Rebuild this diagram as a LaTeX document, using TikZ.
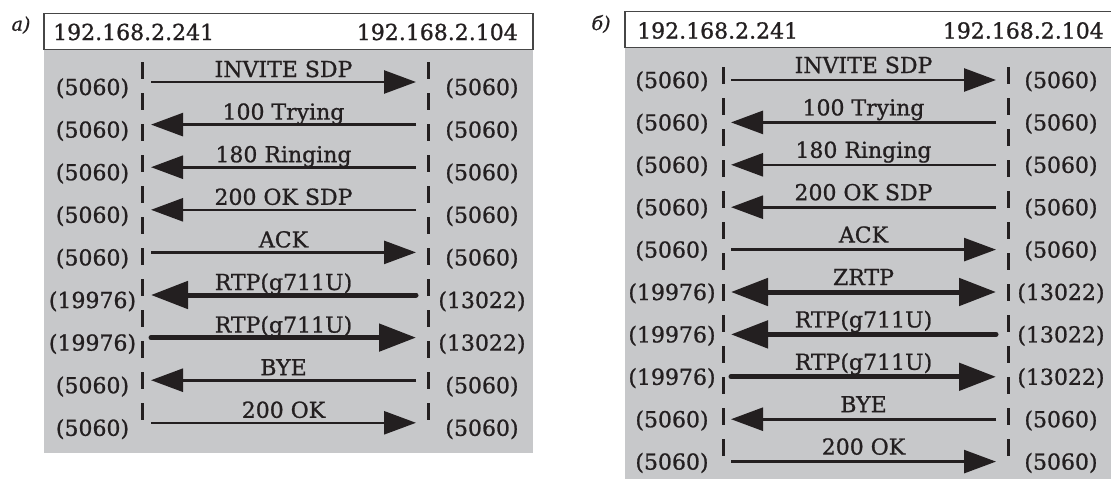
\documentclass[tikz,border=0pt]{standalone}
\usepackage{fontspec}
\setmainfont{DejaVu Serif}[FakeBold=0.9]
\usetikzlibrary{arrows.meta}
\definecolor{panelgray}{RGB}{199,200,202}
\definecolor{ink}{RGB}{35,31,32}
\definecolor{frame}{RGB}{70,70,70}
\begin{document}
\begin{tikzpicture}[x=1pt,y=-1pt,
  every node/.style={font=\fontsize{22}{26}\selectfont, text=ink, inner sep=0pt},
  lifeline/.style={ink, line width=3pt, dash pattern=on 17pt off 14pt},
  msg/.style={ink, line width=2.6pt, -{Triangle[length=32pt,width=23pt]}},
  thickmsg/.style={ink, line width=5pt, line cap=round, -{Triangle[length=37pt,width=27pt]}},
  bothmsg/.style={ink, line width=5pt, {Triangle[length=37pt,width=27pt]}-{Triangle[length=37pt,width=27pt]}},
  lblA/.style={anchor=base, yshift=5pt},
  lblB/.style={anchor=base, yshift=7pt},
  port/.style={anchor=base},
  head/.style={draw=frame, line width=1.2pt, fill=white},
  tag/.style={font=\fontsize{19}{22}\selectfont\itshape}
]
\useasboundingbox (0,0) rectangle (1111,479);

% ---------- panel a ----------
\fill[panelgray] (44,49.3) rectangle (533,453);
\draw[head] (44,13.3) rectangle (533,49.3);
\node[tag] (taga) at (21,25) {a)};
\node[anchor=base west] (hal) at (53,40) {192.168.2.241};
\node[anchor=base east] (har) at (518,40) {192.168.2.104};
\coordinate (aLt) at (142,62); \coordinate (aLb) at (142,433);
\coordinate (aRt) at (428,62); \coordinate (aRb) at (428,433);
\draw[lifeline] (aLt) -- (aLb);
\draw[lifeline] (aRt) -- (aRb);
\foreach \i/\lp/\rp in {1/5060/5060,2/5060/5060,3/5060/5060,4/5060/5060,5/5060/5060,6/19976/13022,7/19976/13022,8/5060/5060,9/5060/5060}{
  \pgfmathsetmacro\yy{82+42.6*(\i-1)}
  \coordinate (a\i l) at (151,\yy);
  \coordinate (a\i r) at (416,\yy);
  \node[port] (a\i pl) at (92.5,\yy+13) {(\lp)};
  \node[port] (a\i pr) at (482,\yy+13) {(\rp)};
}
\draw[msg] (a1l) -- node[lblA] (ma1) {INVITE SDP} (a1r);
\draw[msg] (a2r) -- node[lblA] (ma2) {100 Trying} (a2l);
\draw[msg] (a3r) -- node[lblA] (ma3) {180 Ringing} (a3l);
\draw[msg] (a4r) -- node[lblA] (ma4) {200 OK SDP} (a4l);
\draw[msg] (a5l) -- node[lblA] (ma5) {ACK} (a5r);
\draw[thickmsg] (a6r) -- node[lblA] (ma6) {RTP(g711U)} (a6l);
\draw[thickmsg] (a7l) -- node[lblA] (ma7) {RTP(g711U)} (a7r);
\draw[msg] (a8r) -- node[lblA] (ma8) {BYE} (a8l);
\draw[msg] (a9l) -- node[lblA] (ma9) {200 OK} (a9r);

% ---------- panel b ----------
\fill[panelgray] (625,47.3) rectangle (1114,481);
\draw[head] (625,11.7) rectangle (1114,47.3);
\node[tag] (tagb) at (601,24) {б)};
\node[anchor=base west] (hbl) at (637,38.5) {192.168.2.241};
\node[anchor=base east] (hbr) at (1104,38.5) {192.168.2.104};
\coordinate (bLt) at (723,67); \coordinate (bLb) at (723,467);
\coordinate (bRt) at (1008,67); \coordinate (bRb) at (1008,467);
\draw[lifeline] (bLt) -- (bLb);
\draw[lifeline] (bRt) -- (bRb);
\foreach \i/\lp/\rp in {1/5060/5060,2/5060/5060,3/5060/5060,4/5060/5060,5/5060/5060,6/19976/13022,7/19976/13022,8/19976/13022,9/5060/5060,10/5060/5060}{
  \pgfmathsetmacro\yy{80+42.4*(\i-1)}
  \coordinate (b\i l) at (731,\yy);
  \coordinate (b\i r) at (996,\yy);
  \node[port] (b\i pl) at (672,\yy+8) {(\lp)};
  \node[port] (b\i pr) at (1061,\yy+8) {(\rp)};
}
\draw[msg] (b1l) -- node[lblB] (mb1) {INVITE SDP} (b1r);
\draw[msg] (b2r) -- node[lblB] (mb2) {100 Trying} (b2l);
\draw[msg] (b3r) -- node[lblB] (mb3) {180 Ringing} (b3l);
\draw[msg] (b4r) -- node[lblB] (mb4) {200 OK SDP} (b4l);
\draw[msg] (b5l) -- node[lblB] (mb5) {ACK} (b5r);
\draw[bothmsg] (b6l) -- node[lblB] (mb6) {ZRTP} (b6r);
\draw[thickmsg] (b7r) -- node[lblB] (mb7) {RTP(g711U)} (b7l);
\draw[thickmsg] (b8l) -- node[lblB] (mb8) {RTP(g711U)} (b8r);
\draw[msg] (b9r) -- node[lblB] (mb9) {BYE} (b9l);
\draw[msg] (b10l) -- node[lblB] (mb10) {200 OK} (b10r);
\end{tikzpicture}
\end{document}
